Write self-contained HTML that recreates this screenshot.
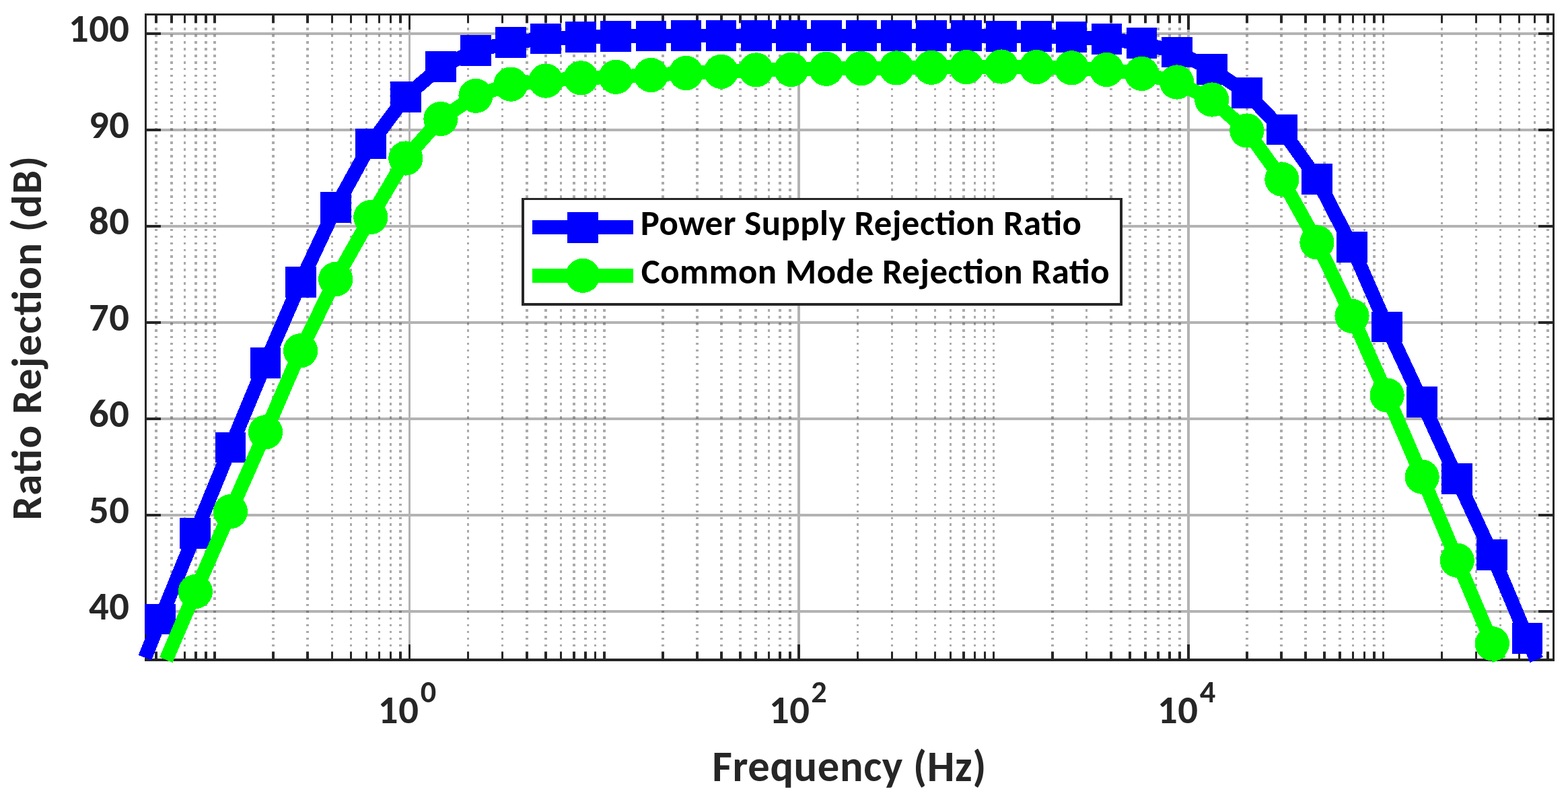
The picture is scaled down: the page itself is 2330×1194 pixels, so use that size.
<!DOCTYPE html>
<html><head><meta charset="utf-8"><title>Ratio Rejection vs Frequency</title>
<style>
html,body{margin:0;padding:0;background:#fff;}
svg{display:block;}
text{font-family:"Carlito", "Liberation Sans", sans-serif;font-weight:bold;font-size-adjust:0.4849;}
</style></head><body>
<svg width="2330" height="1194" viewBox="0 0 2330 1194">
<rect x="0" y="0" width="2330" height="1194" fill="#fff"/>
<g shape-rendering="crispEdges" fill="none">
<path stroke="#262626" stroke-opacity="0.39" stroke-width="3.6" stroke-dasharray="3.6 6.35" d="M232.01,21.25V978.00 M254.93,21.25V978.00 M274.30,21.25V978.00 M291.08,21.25V978.00 M305.88,21.25V978.00 M319.12,21.25V978.00 M406.24,21.25V978.00 M457.19,21.25V978.00 M493.35,21.25V978.00 M521.39,21.25V978.00 M544.30,21.25V978.00 M563.68,21.25V978.00 M580.46,21.25V978.00 M595.26,21.25V978.00 M695.61,21.25V978.00 M746.57,21.25V978.00 M782.72,21.25V978.00 M810.76,21.25V978.00 M833.68,21.25V978.00 M853.05,21.25V978.00 M869.83,21.25V978.00 M884.63,21.25V978.00 M897.88,21.25V978.00 M984.99,21.25V978.00 M1035.94,21.25V978.00 M1072.10,21.25V978.00 M1100.14,21.25V978.00 M1123.05,21.25V978.00 M1142.43,21.25V978.00 M1159.21,21.25V978.00 M1174.01,21.25V978.00 M1274.36,21.25V978.00 M1325.32,21.25V978.00 M1361.47,21.25V978.00 M1389.51,21.25V978.00 M1412.43,21.25V978.00 M1431.80,21.25V978.00 M1448.58,21.25V978.00 M1463.38,21.25V978.00 M1476.62,21.25V978.00 M1563.74,21.25V978.00 M1614.69,21.25V978.00 M1650.85,21.25V978.00 M1678.89,21.25V978.00 M1701.80,21.25V978.00 M1721.18,21.25V978.00 M1737.96,21.25V978.00 M1752.76,21.25V978.00 M1853.11,21.25V978.00 M1904.07,21.25V978.00 M1940.22,21.25V978.00 M1968.26,21.25V978.00 M1991.18,21.25V978.00 M2010.55,21.25V978.00 M2027.33,21.25V978.00 M2042.13,21.25V978.00 M2055.38,21.25V978.00 M2142.49,21.25V978.00 M2193.44,21.25V978.00 M2229.60,21.25V978.00 M2257.64,21.25V978.00 M2280.55,21.25V978.00 M2299.93,21.25V978.00"/>
<path stroke="#262626" stroke-opacity="0.35" stroke-width="3.6" d="M608.50,23V978 M1187.25,23V978 M1766.00,23V978 M218,908.00H2307 M218,765.00H2307 M218,622.00H2307 M218,479.00H2307 M218,336.00H2307 M218,193.00H2307 M218,50.00H2307"/>
</g>
<path shape-rendering="crispEdges" fill="#262626" d="M215,20H2310V23H215zM215,978H2310V982H215zM215,20H218V982H215zM2307,20H2310V982H2307zM607,957H610V978H607zM607,23H610V44H607zM1185,957H1189V978H1185zM1185,23H1189V44H1185zM1764,957H1768V978H1764zM1764,23H1768V44H1764zM230,968H234V978H230zM230,23H234V34H230zM253,968H257V978H253zM253,23H257V34H253zM273,968H276V978H273zM273,23H276V34H273zM289,968H293V978H289zM289,23H293V34H289zM304,968H308V978H304zM304,23H308V34H304zM317,968H321V978H317zM317,23H321V34H317zM404,968H408V978H404zM404,23H408V34H404zM455,968H459V978H455zM455,23H459V34H455zM492,968H495V978H492zM492,23H495V34H492zM520,968H523V978H520zM520,23H523V34H520zM543,968H546V978H543zM543,23H546V34H543zM562,968H565V978H562zM562,23H565V34H562zM579,968H582V978H579zM579,23H582V34H579zM593,968H597V978H593zM593,23H597V34H593zM694,968H697V978H694zM694,23H697V34H694zM745,968H748V978H745zM745,23H748V34H745zM781,968H785V978H781zM781,23H785V34H781zM809,968H813V978H809zM809,23H813V34H809zM832,968H835V978H832zM832,23H835V34H832zM851,968H855V978H851zM851,23H855V34H851zM868,968H872V978H868zM868,23H872V34H868zM883,968H886V978H883zM883,23H886V34H883zM896,968H900V978H896zM896,23H900V34H896zM983,968H987V978H983zM983,23H987V34H983zM1034,968H1038V978H1034zM1034,23H1038V34H1034zM1070,968H1074V978H1070zM1070,23H1074V34H1070zM1098,968H1102V978H1098zM1098,23H1102V34H1098zM1121,968H1125V978H1121zM1121,23H1125V34H1121zM1141,968H1144V978H1141zM1141,23H1144V34H1141zM1157,968H1161V978H1157zM1157,23H1161V34H1157zM1172,968H1176V978H1172zM1172,23H1176V34H1172zM1273,968H1276V978H1273zM1273,23H1276V34H1273zM1324,968H1327V978H1324zM1324,23H1327V34H1324zM1360,968H1363V978H1360zM1360,23H1363V34H1360zM1388,968H1391V978H1388zM1388,23H1391V34H1388zM1411,968H1414V978H1411zM1411,23H1414V34H1411zM1430,968H1434V978H1430zM1430,23H1434V34H1430zM1447,968H1450V978H1447zM1447,23H1450V34H1447zM1462,968H1465V978H1462zM1462,23H1465V34H1462zM1475,968H1478V978H1475zM1475,23H1478V34H1475zM1562,968H1566V978H1562zM1562,23H1566V34H1562zM1613,968H1616V978H1613zM1613,23H1616V34H1613zM1649,968H1653V978H1649zM1649,23H1653V34H1649zM1677,968H1681V978H1677zM1677,23H1681V34H1677zM1700,968H1704V978H1700zM1700,23H1704V34H1700zM1719,968H1723V978H1719zM1719,23H1723V34H1719zM1736,968H1740V978H1736zM1736,23H1740V34H1736zM1751,968H1755V978H1751zM1751,23H1755V34H1751zM1851,968H1855V978H1851zM1851,23H1855V34H1851zM1902,968H1906V978H1902zM1902,23H1906V34H1902zM1938,968H1942V978H1938zM1938,23H1942V34H1938zM1966,968H1970V978H1966zM1966,23H1970V34H1966zM1989,968H1993V978H1989zM1989,23H1993V34H1989zM2009,968H2012V978H2009zM2009,23H2012V34H2009zM2026,968H2029V978H2026zM2026,23H2029V34H2026zM2040,968H2044V978H2040zM2040,23H2044V34H2040zM2054,968H2057V978H2054zM2054,23H2057V34H2054zM2141,968H2144V978H2141zM2141,23H2144V34H2141zM2192,968H2195V978H2192zM2192,23H2195V34H2192zM2228,968H2231V978H2228zM2228,23H2231V34H2228zM2256,968H2259V978H2256zM2256,23H2259V34H2256zM2279,968H2282V978H2279zM2279,23H2282V34H2279zM2298,968H2302V978H2298zM2298,23H2302V34H2298zM218,906H239V910H218zM2286,906H2307V910H2286zM218,763H239V767H218zM2286,763H2307V767H2286zM218,620H239V624H218zM2286,620H2307V624H2286zM218,477H239V481H218zM2286,477H2307V481H2286zM218,334H239V338H218zM2286,334H2307V338H2286zM218,191H239V195H218zM2286,191H2307V195H2286zM218,48H239V52H218zM2286,48H2307V52H2286z"/>
<text x="132.10" y="920.30" font-size="58.67" textLength="60" lengthAdjust="spacing" fill="#262626">40</text>
<text x="132.10" y="777.30" font-size="58.67" textLength="60" lengthAdjust="spacing" fill="#262626">50</text>
<text x="132.10" y="634.30" font-size="58.67" textLength="60" lengthAdjust="spacing" fill="#262626">60</text>
<text x="132.10" y="491.30" font-size="58.67" textLength="60" lengthAdjust="spacing" fill="#262626">70</text>
<text x="132.10" y="348.30" font-size="58.67" textLength="60" lengthAdjust="spacing" fill="#262626">80</text>
<text x="132.10" y="205.30" font-size="58.67" textLength="60" lengthAdjust="spacing" fill="#262626">90</text>
<text x="102.10" y="62.30" font-size="58.67" textLength="90" lengthAdjust="spacing" fill="#262626">100</text>
<text x="561.87" y="1073.6" font-size="58.67" textLength="60" lengthAdjust="spacing" fill="#262626">10</text>
<text x="624.85" y="1043.4" font-size="46.3" fill="#262626">0</text>
<text x="1143.07" y="1073.6" font-size="58.67" textLength="60" lengthAdjust="spacing" fill="#262626">10</text>
<text x="1205.34" y="1043.4" font-size="46.3" fill="#262626">2</text>
<text x="1719.97" y="1073.6" font-size="58.67" textLength="60" lengthAdjust="spacing" fill="#262626">10</text>
<text x="1782.66" y="1043.4" font-size="46.3" fill="#262626">4</text>
<text x="1058.27" y="1160.0" font-size="64.53" textLength="407.17" lengthAdjust="spacing" fill="#262626">Frequency (Hz)</text>
<text transform="translate(61.2,772.43) rotate(-90)" x="0" y="0" font-size="63.00" textLength="540.47" lengthAdjust="spacing" fill="#262626">Ratio Rejection (dB)</text>
<g shape-rendering="crispEdges">
<path d="M215.40,976.71 L238.30,919.50 L290.38,791.80 L342.46,664.40 L394.54,539.20 L446.62,419.10 L498.70,308.20 L550.78,213.50 L602.86,143.60 L654.94,99.00 L707.02,75.00 L759.10,62.80 L811.18,57.40 L863.26,55.00 L915.34,54.00 L967.42,53.50 L1019.50,53.00 L1071.58,53.00 L1123.66,53.00 L1175.74,53.00 L1227.82,53.00 L1279.90,53.00 L1331.98,53.00 L1384.06,53.00 L1436.14,53.00 L1488.22,54.00 L1540.30,54.00 L1592.38,55.00 L1644.46,57.90 L1696.54,64.00 L1748.62,77.40 L1800.70,103.00 L1852.78,138.00 L1904.86,192.50 L1956.94,265.60 L2009.02,366.80 L2061.10,485.50 L2113.18,597.10 L2165.26,711.10 L2217.34,823.90 L2269.42,947.60 L2283.09,980.00" stroke="#0000ff" stroke-width="21" fill="none" stroke-linejoin="round" stroke-linecap="butt"/>
<path d="M215.40,896.60h45.80v45.80h-45.80zM267.48,768.90h45.80v45.80h-45.80zM319.56,641.50h45.80v45.80h-45.80zM371.64,516.30h45.80v45.80h-45.80zM423.72,396.20h45.80v45.80h-45.80zM475.80,285.30h45.80v45.80h-45.80zM527.88,190.60h45.80v45.80h-45.80zM579.96,120.70h45.80v45.80h-45.80zM632.04,76.10h45.80v45.80h-45.80zM684.12,52.10h45.80v45.80h-45.80zM736.20,39.90h45.80v45.80h-45.80zM788.28,34.50h45.80v45.80h-45.80zM840.36,32.10h45.80v45.80h-45.80zM892.44,31.10h45.80v45.80h-45.80zM944.52,30.60h45.80v45.80h-45.80zM996.60,30.10h45.80v45.80h-45.80zM1048.68,30.10h45.80v45.80h-45.80zM1100.76,30.10h45.80v45.80h-45.80zM1152.84,30.10h45.80v45.80h-45.80zM1204.92,30.10h45.80v45.80h-45.80zM1257.00,30.10h45.80v45.80h-45.80zM1309.08,30.10h45.80v45.80h-45.80zM1361.16,30.10h45.80v45.80h-45.80zM1413.24,30.10h45.80v45.80h-45.80zM1465.32,31.10h45.80v45.80h-45.80zM1517.40,31.10h45.80v45.80h-45.80zM1569.48,32.10h45.80v45.80h-45.80zM1621.56,35.00h45.80v45.80h-45.80zM1673.64,41.10h45.80v45.80h-45.80zM1725.72,54.50h45.80v45.80h-45.80zM1777.80,80.10h45.80v45.80h-45.80zM1829.88,115.10h45.80v45.80h-45.80zM1881.96,169.60h45.80v45.80h-45.80zM1934.04,242.70h45.80v45.80h-45.80zM1986.12,343.90h45.80v45.80h-45.80zM2038.20,462.60h45.80v45.80h-45.80zM2090.28,574.20h45.80v45.80h-45.80zM2142.36,688.20h45.80v45.80h-45.80zM2194.44,801.00h45.80v45.80h-45.80zM2246.52,924.70h45.80v45.80h-45.80z" fill="#0000ff"/>
<path d="M246.73,980.00 L290.38,878.50 L342.46,759.70 L394.54,641.80 L446.62,520.80 L498.70,414.70 L550.78,322.60 L602.86,235.00 L654.94,176.50 L707.02,142.30 L759.10,125.10 L811.18,120.10 L863.26,115.80 L915.34,114.30 L967.42,111.50 L1019.50,108.50 L1071.58,106.40 L1123.66,103.90 L1175.74,103.50 L1227.82,102.30 L1279.90,101.60 L1331.98,100.90 L1384.06,100.30 L1436.14,99.60 L1488.22,99.00 L1540.30,99.60 L1592.38,100.80 L1644.46,103.50 L1696.54,109.40 L1748.62,122.00 L1800.70,148.00 L1852.78,194.00 L1904.86,266.20 L1956.94,359.90 L2009.02,469.40 L2061.10,587.00 L2113.18,708.20 L2165.26,832.20 L2217.34,955.80 L2227.54,980.00" stroke="#00ff00" stroke-width="21" fill="none" stroke-linejoin="round" stroke-linecap="butt"/>
<circle cx="290.38" cy="878.50" r="25.60" fill="#00ff00"/>
<circle cx="342.46" cy="759.70" r="25.60" fill="#00ff00"/>
<circle cx="394.54" cy="641.80" r="25.60" fill="#00ff00"/>
<circle cx="446.62" cy="520.80" r="25.60" fill="#00ff00"/>
<circle cx="498.70" cy="414.70" r="25.60" fill="#00ff00"/>
<circle cx="550.78" cy="322.60" r="25.60" fill="#00ff00"/>
<circle cx="602.86" cy="235.00" r="25.60" fill="#00ff00"/>
<circle cx="654.94" cy="176.50" r="25.60" fill="#00ff00"/>
<circle cx="707.02" cy="142.30" r="25.60" fill="#00ff00"/>
<circle cx="759.10" cy="125.10" r="25.60" fill="#00ff00"/>
<circle cx="811.18" cy="120.10" r="25.60" fill="#00ff00"/>
<circle cx="863.26" cy="115.80" r="25.60" fill="#00ff00"/>
<circle cx="915.34" cy="114.30" r="25.60" fill="#00ff00"/>
<circle cx="967.42" cy="111.50" r="25.60" fill="#00ff00"/>
<circle cx="1019.50" cy="108.50" r="25.60" fill="#00ff00"/>
<circle cx="1071.58" cy="106.40" r="25.60" fill="#00ff00"/>
<circle cx="1123.66" cy="103.90" r="25.60" fill="#00ff00"/>
<circle cx="1175.74" cy="103.50" r="25.60" fill="#00ff00"/>
<circle cx="1227.82" cy="102.30" r="25.60" fill="#00ff00"/>
<circle cx="1279.90" cy="101.60" r="25.60" fill="#00ff00"/>
<circle cx="1331.98" cy="100.90" r="25.60" fill="#00ff00"/>
<circle cx="1384.06" cy="100.30" r="25.60" fill="#00ff00"/>
<circle cx="1436.14" cy="99.60" r="25.60" fill="#00ff00"/>
<circle cx="1488.22" cy="99.00" r="25.60" fill="#00ff00"/>
<circle cx="1540.30" cy="99.60" r="25.60" fill="#00ff00"/>
<circle cx="1592.38" cy="100.80" r="25.60" fill="#00ff00"/>
<circle cx="1644.46" cy="103.50" r="25.60" fill="#00ff00"/>
<circle cx="1696.54" cy="109.40" r="25.60" fill="#00ff00"/>
<circle cx="1748.62" cy="122.00" r="25.60" fill="#00ff00"/>
<circle cx="1800.70" cy="148.00" r="25.60" fill="#00ff00"/>
<circle cx="1852.78" cy="194.00" r="25.60" fill="#00ff00"/>
<circle cx="1904.86" cy="266.20" r="25.60" fill="#00ff00"/>
<circle cx="1956.94" cy="359.90" r="25.60" fill="#00ff00"/>
<circle cx="2009.02" cy="469.40" r="25.60" fill="#00ff00"/>
<circle cx="2061.10" cy="587.00" r="25.60" fill="#00ff00"/>
<circle cx="2113.18" cy="708.20" r="25.60" fill="#00ff00"/>
<circle cx="2165.26" cy="832.20" r="25.60" fill="#00ff00"/>
<circle cx="2217.34" cy="955.80" r="25.60" fill="#00ff00"/>
</g>
<rect x="775" y="294" width="893" height="160" fill="#fff"/>
<path shape-rendering="crispEdges" fill="#262626" d="M775,294H1668V297H775zM775,450H1668V454H775zM775,294H779V454H775zM1664,294H1668V454H1664z"/>
<g shape-rendering="crispEdges">
<path d="M790.8,337.3H940.8" stroke="#0000ff" stroke-width="21"/>
<rect x="842.90" y="314.70" width="45.80" height="45.80" fill="#0000ff"/>
<path d="M790.8,409.7H940.8" stroke="#00ff00" stroke-width="21"/>
<circle cx="866" cy="409.3" r="25.60" fill="#00ff00"/>
</g>
<text x="951.73" y="349.1" font-size="52.80" textLength="655.17" lengthAdjust="spacing" fill="#000">Power Supply Rejection Ratio</text>
<text x="952.82" y="421.3" font-size="52.80" textLength="695.78" lengthAdjust="spacing" fill="#000">Common Mode Rejection Ratio</text>
</svg>
</body></html>
